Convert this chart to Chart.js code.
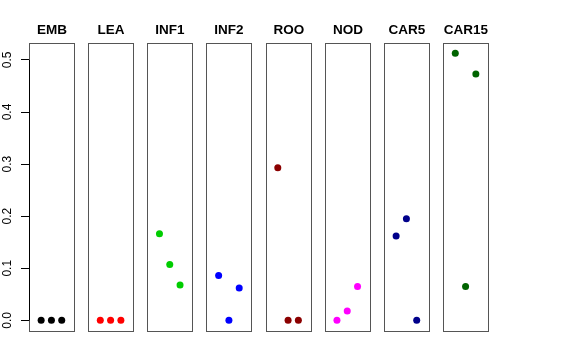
<!DOCTYPE html>
<html>
<head>
<meta charset="utf-8">
<script src="https://cdn.jsdelivr.net/npm/chart.js@4"></script>
<style>
  html, body { margin: 0; padding: 0; background: #fff; }
  #wrap { width: 576px; height: 360px; }
</style>
</head>
<body>
<div id="wrap"><canvas id="grafico" width="576" height="360"></canvas></div>
<script>
// tissues (one panel each) and the three replicate values per panel
const tejidos = ['EMB', 'LEA', 'INF1', 'INF2', 'ROO', 'NOD', 'CAR5', 'CAR15'];
const emb   = [0, 0, 0];
const lea   = [0, 0, 0];
const inf1  = [0.166, 0.107, 0.068];
const inf2  = [0.086, 0, 0.062];
const roo   = [0.293, 0, 0];
const nod   = [0, 0.018, 0.065];
const car5  = [0.162, 0.195, 0];
const car15 = [0.513, 0.065, 0.473];
const valores = [emb, lea, inf1, inf2, roo, nod, car5, car15];
const colores = ['#000000', '#FF0000', '#00CD00', '#0000FF', '#8B0000', '#FF00FF', '#00008B', '#006400'];
const yTicks = [0, 0.1, 0.2, 0.3, 0.4, 0.5];

// panel layout on the shared x scale
const PASO = 5.75;   // distance between panels
const ANCHO = 4.36;  // panel width

const datasets = tejidos.map((t, i) => ({
    label: t,
    data: valores[i].map((v, j) => ({ x: i * PASO + j + 1, y: v })),
    backgroundColor: colores[i],
    borderWidth: 0,
    pointRadius: 3.5,
    pointHoverRadius: 3.5
}));

const paneles = {
    id: 'paneles',
    beforeDatasetsDraw(chart) {
        const { ctx, chartArea, scales } = chart;
        const x = scales.x, y = scales.y;
        ctx.save();
        ctx.strokeStyle = '#555';
        ctx.lineWidth = 1;
        tejidos.forEach((t, i) => {
            const l = Math.round(x.getPixelForValue(i * PASO + 2 - ANCHO / 2)) + 0.5;
            const r = Math.round(x.getPixelForValue(i * PASO + 2 + ANCHO / 2)) + 0.5;
            ctx.strokeRect(l, Math.round(chartArea.top) + 0.5, r - l, Math.round(chartArea.bottom - chartArea.top));
            ctx.fillStyle = '#000';
            ctx.font = 'bold 13.5px "Liberation Sans", Arial, sans-serif';
            ctx.textAlign = 'center';
            ctx.textBaseline = 'alphabetic';
            ctx.fillText(t, (l + r) / 2, 34);
        });
        // y axis line from first to last tick
        const ax = Math.round(chartArea.left) + 0.5;
        ctx.strokeStyle = '#000';
        ctx.beginPath();
        ctx.moveTo(ax, y.getPixelForValue(yTicks[0]));
        ctx.lineTo(ax, y.getPixelForValue(yTicks[yTicks.length - 1]));
        ctx.stroke();
        ctx.restore();
    }
};

new Chart(document.getElementById('grafico'), {
    type: 'scatter',
    data: { datasets: datasets },
    options: {
        responsive: false,
        animation: false,
        layout: { padding: { left: 0, right: 88, top: 43, bottom: 29 } },
        plugins: { legend: { display: false }, tooltip: { enabled: false } },
        scales: {
            x: {
                type: 'linear',
                display: false,
                min: 2 - ANCHO / 2,
                max: 7 * PASO + 2 + ANCHO / 2
            },
            y: {
                type: 'linear',
                min: -0.0205,
                max: 0.5325,
                afterBuildTicks: s => { s.ticks = yTicks.map(v => ({ value: v })); },
                afterFit: s => { s.width = 29; },
                border: { display: false },
                grid: { drawOnChartArea: false, drawTicks: true, tickLength: 8, color: '#000' },
                ticks: {
                    minRotation: 90,
                    maxRotation: 90,
                    crossAlign: 'center',
                    padding: 5,
                    color: '#000',
                    font: { family: '"Liberation Sans", Arial, sans-serif', size: 12 },
                    callback: v => v.toFixed(1)
                }
            }
        }
    },
    plugins: [paneles]
});
</script>
</body>
</html>
